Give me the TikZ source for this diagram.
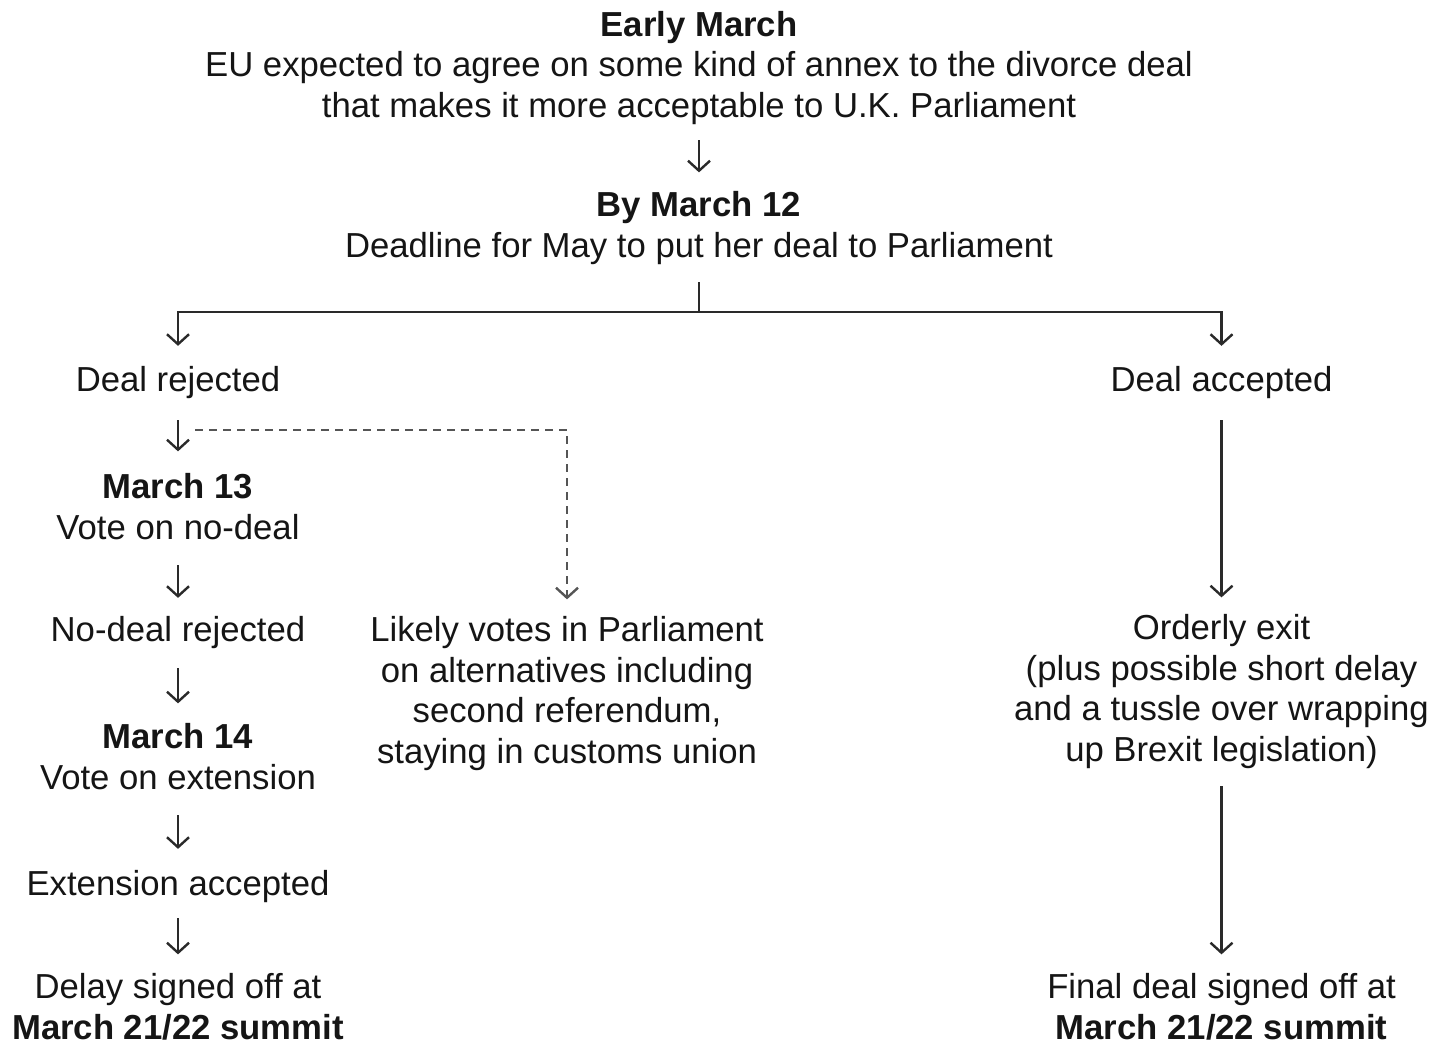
\documentclass[tikz,border=0pt]{standalone}
\usepackage{fontspec}
\setmainfont{Liberation Sans}
\usetikzlibrary{arrows.meta}
\definecolor{txt}{HTML}{151515}
\definecolor{ln}{HTML}{2A2A2A}
\definecolor{dln}{HTML}{555555}
\begin{document}
\begin{tikzpicture}[x=1pt,y=-1pt,
  lbl/.style={inner sep=0pt, outer sep=0pt, align=center, text=txt, anchor=base,
    font=\fontsize{34.7}{40.5}\selectfont},
  plain/.style={draw=ln, line width=2.4pt},
  conn/.style={plain, -{Straight Barb[length=10pt,width=22pt,line width=2.4pt]}},
  dconn/.style={conn, draw=dln, dash pattern=on 8pt off 6pt}
]
\useasboundingbox[fill=white] (0,0) rectangle (1443,1044);

\node[lbl] (early) at (699,117) {\textbf{Early March}\\EU expected to agree on some kind of annex to the divorce deal\\that makes it more acceptable to U.K. Parliament};
\node[lbl] (by12) at (699,257) {\textbf{By March 12}\\Deadline for May to put her deal to Parliament};
\node[lbl] (rej) at (178,391) {Deal rejected};
\node[lbl] (acc) at (1221.5,391) {Deal accepted};
\node[lbl] (m13) at (178,539) {\textbf{March 13}\\Vote on no-deal};
\node[lbl] (nodeal) at (178,641) {No-deal rejected};
\node[lbl] (m14) at (178,789) {\textbf{March 14}\\Vote on extension};
\node[lbl] (ext) at (178,895) {Extension accepted};
\node[lbl] (delay) at (178,1039) {Delay signed off at\\\textbf{March 21/22 summit}};
\node[lbl] (likely) at (567,763) {Likely votes in Parliament\\on alternatives including\\second referendum,\\staying in customs union};
\node[lbl] (orderly) at (1221.5,761) {Orderly exit\\(plus possible short delay\\and a tussle over wrapping\\up Brexit legislation)};
\node[lbl] (final) at (1221.5,1039) {Final deal signed off at\\\textbf{March 21/22 summit}};

\coordinate (split) at (699,312);
\coordinate (dstart) at (195,430);

\draw[conn, shorten <=16pt, shorten >=19pt] (early.south) -- (by12.north);
\draw[plain, shorten <=18pt] (by12.south) -- (split);
\draw[conn, shorten >=20pt] (split) -| (rej.north);
\draw[conn, shorten >=20pt] (split) -| (acc.north);
\draw[conn, shorten <=22pt, shorten >=22pt] (rej.south) -- (m13.north);
\draw[dconn, shorten >=17pt] (dstart) -| (likely.north);
\draw[conn, shorten <=26pt, shorten >=18pt] (m13.south) -- (nodeal.north);
\draw[conn, shorten <=20pt, shorten >=20pt] (nodeal.south) -- (m14.north);
\draw[conn, shorten <=26pt, shorten >=21pt] (m14.south) -- (ext.north);
\draw[conn, shorten <=16pt, shorten >=19pt] (ext.south) -- (delay.north);
\draw[conn, shorten <=22pt, shorten >=17pt] (acc.south) -- (orderly.north);
\draw[conn, shorten <=18pt, shorten >=19pt] (orderly.south) -- (final.north);
\end{tikzpicture}
\end{document}
